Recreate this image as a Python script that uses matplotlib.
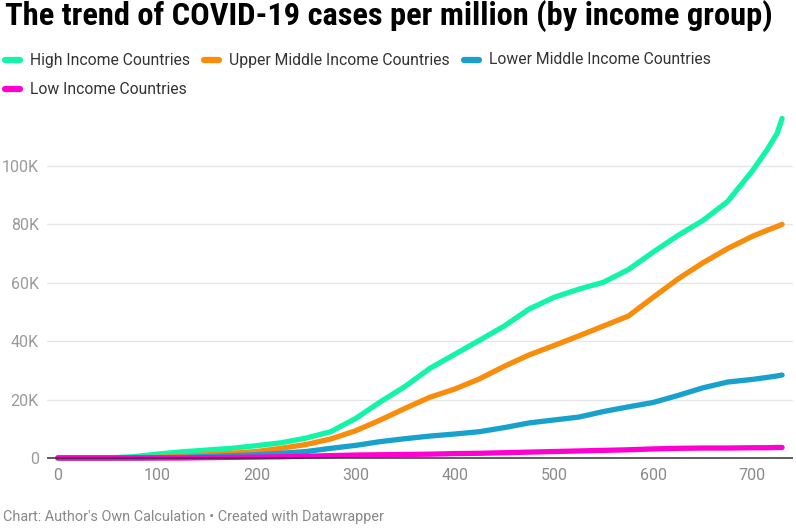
import matplotlib.pyplot as plt
from matplotlib.lines import Line2D
from matplotlib import font_manager

# fonts: try a condensed family for the title if one exists
names = set(f.name for f in font_manager.fontManager.ttflist)
title_family = 'Roboto Condensed' if 'Roboto Condensed' in names else 'Roboto'
plt.rcParams['font.family'] = ['Roboto', 'DejaVu Sans']

days = [0, 50, 75, 100, 125, 150, 175, 200, 225, 250, 275, 300, 325, 350, 375,
        400, 425, 450, 475, 500, 525, 550, 575, 600, 625, 650, 675, 700, 715, 725, 730]

high = [0, 0, 0.4, 1.3, 2.1, 2.7, 3.3, 4.2, 5.2, 6.8, 9.0, 13.5, 19.2, 24.5, 30.7,
        35.5, 40.3, 45.2, 51.0, 55.0, 57.8, 60.2, 64.5, 70.5, 76.2, 81.3, 87.8, 98.3, 105.6, 111.2, 116.3]
upper_mid = [0, 0, 0, 0.2, 0.5, 1.1, 1.6, 2.2, 3.3, 4.6, 6.5, 9.3, 13.0, 17.0, 20.8,
             23.6, 27.1, 31.4, 35.3, 38.5, 41.8, 45.2, 48.6, 55.0, 61.3, 66.8, 71.7, 75.9, 78.0, 79.3, 80.0]
lower_mid = [0, 0, 0, 0.1, 0.2, 0.5, 0.8, 1.1, 1.6, 2.2, 3.3, 4.3, 5.6, 6.6, 7.5,
             8.2, 9.0, 10.4, 12.0, 13.0, 14.0, 15.9, 17.5, 19.0, 21.4, 24.0, 26.0, 26.9, 27.6, 28.1, 28.4]
low = [0, 0, 0, 0, 0, 0.1, 0.2, 0.3, 0.4, 0.6, 0.8, 1.0, 1.1, 1.2, 1.3,
       1.5, 1.6, 1.8, 2.0, 2.2, 2.4, 2.6, 2.8, 3.1, 3.3, 3.4, 3.4, 3.5, 3.5, 3.6, 3.6]

series = [
    ('High Income Countries', high, '#12f5a6'),
    ('Upper Middle Income Countries', upper_mid, '#fa8c0c'),
    ('Lower Middle Income Countries', lower_mid, '#18a1cd'),
    ('Low Income Countries', low, '#ff00d2'),
]

yticks = [0, 20000, 40000, 60000, 80000, 100000]
ytick_labels = ['0', '20K', '40K', '60K', '80K', '100K']
xticks = [0, 100, 200, 300, 400, 500, 600, 700]

W, H = 796, 529
fig = plt.figure(figsize=(W / 100, H / 100), dpi=100)
ax = fig.add_axes([47 / W, (H - 463.8) / H, (793 - 47) / W, (463.8 - 107.6) / H])

for name, vals, col in series:
    ax.plot(days, [v * 1000 for v in vals], color=col, lw=3.8,
            solid_capstyle='round', solid_joinstyle='round')

ax.axhline(0, color='#333333', lw=1.1, zorder=5)
for y in yticks[1:]:
    ax.axhline(y, color='#e6e6e6', lw=1, zorder=0)

ax.set_xlim(-11, 741)
ax.set_ylim(-2000, 120000)
ax.set_yticks(yticks)
ax.set_yticklabels(ytick_labels)
ax.set_xticks(xticks)
ax.tick_params(axis='y', length=0, pad=6, labelsize=11.5, labelcolor='#9a9a9a')
ax.tick_params(axis='x', length=0, pad=3, labelsize=11.5, labelcolor='#8a8a8a')
for s in ax.spines.values():
    s.set_visible(False)

# title
fig.text(5 / W, 1 - 25 / H, 'The trend of COVID-19 cases per million (by income group)',
         family=[title_family, 'DejaVu Sans'], fontweight='bold', fontsize=23.3,
         va='baseline', ha='left', color='#000000')

# legend drawn by hand
legend_pos = [(3, 60), (202, 60), (462, 60), (3, 89)]
for (name, vals, col), (lx, ly) in zip(series, legend_pos):
    yf = 1 - ly / H
    fig.add_artist(Line2D([(lx + 2) / W, (lx + 17) / W], [yf, yf], color=col, lw=4.5,
                          solid_capstyle='round', transform=fig.transFigure))
    fig.text((lx + 27) / W, yf, name, fontsize=11.3, color='#333333', va='center', ha='left')

# footer
fig.text(3 / W, 1 - 517 / H, 'Chart: Author\'s Own Calculation \u2022 Created with Datawrapper',
         fontsize=10.4, color='#888888', va='center', ha='left')

fig.savefig('out.png', dpi=100)
